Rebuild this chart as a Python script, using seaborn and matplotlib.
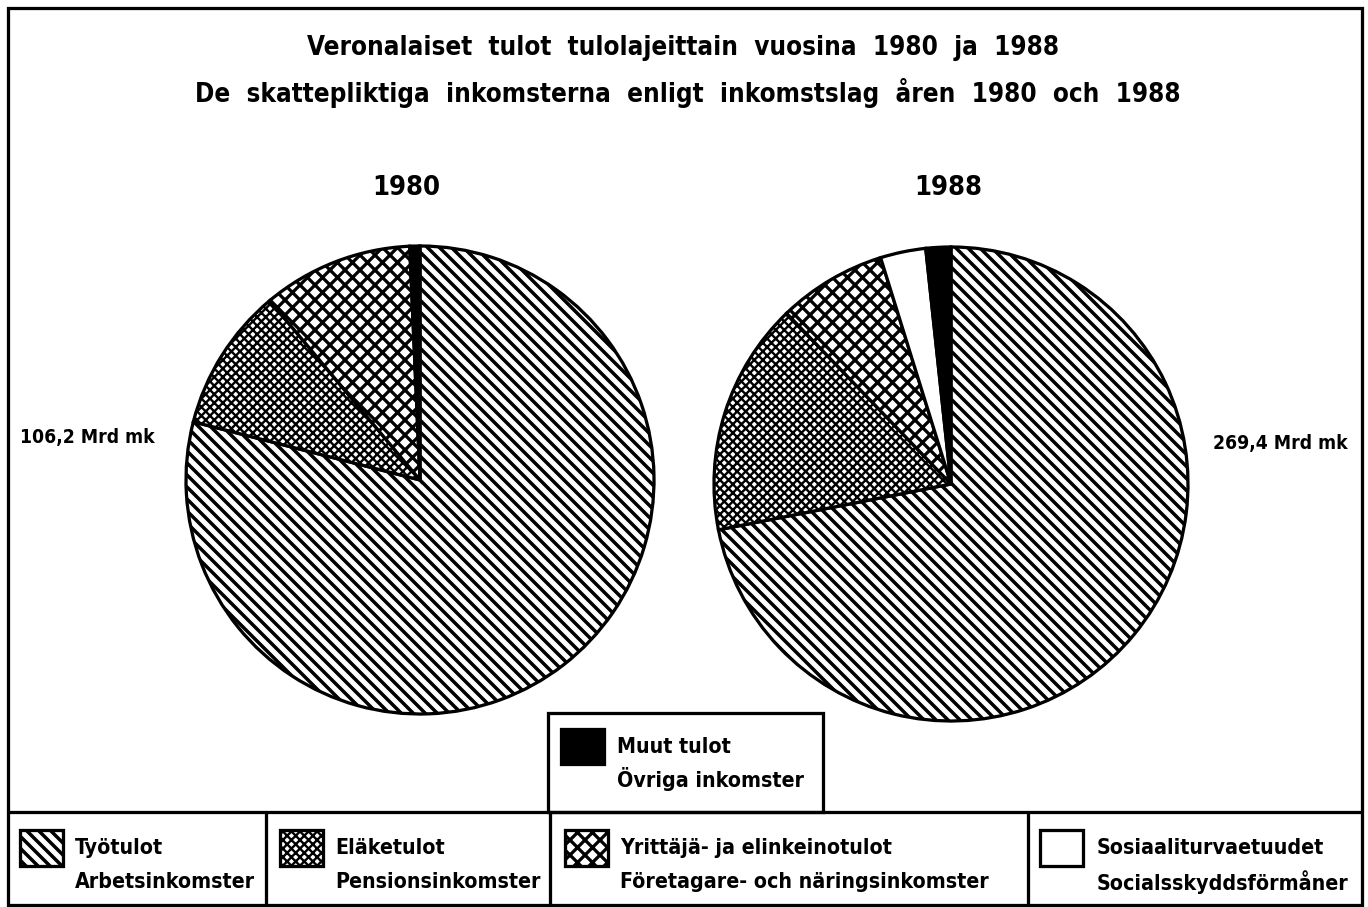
import matplotlib
matplotlib.use("Agg")
import matplotlib.pyplot as plt
from matplotlib.patches import Rectangle
from matplotlib.lines import Line2D
from matplotlib import font_manager as fm
import seaborn as sns

# ---- data ----
categories = ["Työtulot", "Eläketulot", "Yrittäjä- ja elinkeinotulot",
              "Sosiaaliturvaetuudet", "Muut tulot"]
labels_sv = ["Arbetsinkomster", "Pensionsinkomster",
             "Företagare- och näringsinkomster", "Socialsskyddsförmåner",
             "Övriga inkomster"]
share_1980 = [79.0, 9.9, 10.4, 0.0, 0.7]
share_1988 = [71.9, 15.9, 7.4, 3.1, 1.7]
years = ["1980", "1988"]
totals = ["106,2 Mrd mk", "269,4 Mrd mk"]
title1 = "Veronalaiset  tulot  tulolajeittain  vuosina  1980  ja  1988"
title2 = "De  skattepliktiga  inkomsterna  enligt  inkomstslag  åren  1980  och  1988"

hatches = ["\\" * 5, "x" * 7, "x" * 4, "", ""]
hatch_lw = [1.4, 0.95, 1.3, 1.3, 1.3]
faces = ["white", "white", "white", "white", "black"]

sns.set_theme(style="white")

# pick a narrow bold font if one is installed
narrow = None
for f in fm.fontManager.ttflist:
    fn = f.fname.lower()
    if ("narrow" in fn or "condensed" in fn) and "bold" in fn and "oblique" not in fn and "italic" not in fn:
        narrow = f.name
        narrow_stretch = f.stretch
        break
if narrow is not None:
    plt.rcParams["font.family"] = [narrow, "DejaVu Sans"]
    plt.rcParams["font.stretch"] = narrow_stretch
else:
    plt.rcParams["font.family"] = ["Liberation Sans", "DejaVu Sans"]
plt.rcParams["font.weight"] = "bold"
plt.rcParams["text.color"] = "black"
plt.rcParams["hatch.linewidth"] = 1.3
plt.rcParams["hatch.color"] = "black"

W, H = 1368, 907
DPI = 180
fig = plt.figure(figsize=(W / DPI, H / DPI), dpi=DPI)
fig.patch.set_facecolor("white")


def fx(x):
    return x / W


def fy(y):
    return 1 - y / H


LW = 1.3


def set_hlw(p, lw):
    if hasattr(p, "set_hatch_linewidth"):
        p.set_hatch_linewidth(lw)
    else:
        p._hatch_linewidth = lw


def frame_rect(x0, y0, x1, y1, **kw):
    r = Rectangle((fx(x0), fy(y1)), fx(x1) - fx(x0), fy(y0) - fy(y1),
                  transform=fig.transFigure, fill=kw.pop("fill", False),
                  edgecolor="black", linewidth=kw.pop("lw", LW), **kw)
    fig.add_artist(r)
    return r


def hline(x0, x1, y):
    fig.add_artist(Line2D([fx(x0), fx(x1)], [fy(y), fy(y)],
                          transform=fig.transFigure, color="black", lw=LW))


def vline(x, y0, y1):
    fig.add_artist(Line2D([fx(x), fx(x)], [fy(y0), fy(y1)],
                          transform=fig.transFigure, color="black", lw=LW))


# outer frame
frame_rect(8, 8, 1362, 905)

# titles
t1 = fig.text(fx(683), fy(48), title1, ha="center", va="center", fontsize=12)
t2 = fig.text(fx(688), fy(93), title2, ha="center", va="center", fontsize=12)

# pies
pie_specs = [(420, 480, 234, share_1980), (951, 484, 237, share_1988)]
for (cx, cy, r, shares) in pie_specs:
    ax = fig.add_axes([fx(cx - r), fy(cy + r), fx(2 * r), (2 * r) / H])
    keep = [i for i, v in enumerate(shares) if v > 0]
    vals = [shares[i] for i in keep]
    cols = [faces[i] for i in keep]
    hts = [hatches[i] for i in keep]
    wedges, _ = ax.pie(vals, startangle=90, counterclock=False, colors=cols,
                       hatch=hts, radius=1.0,
                       wedgeprops=dict(edgecolor="black", linewidth=LW))
    for w, i in zip(wedges, keep):
        set_hlw(w, hatch_lw[i])
    ax.set_xlim(-1.0, 1.0)
    ax.set_ylim(-1.0, 1.0)
    ax.set_aspect("auto")
    ax.axis("off")

y1 = fig.text(fx(406), fy(188), years[0], ha="center", va="center", fontsize=12)
y2 = fig.text(fx(948), fy(188), years[1], ha="center", va="center", fontsize=12)
tot1 = fig.text(fx(20), fy(437), totals[0], ha="left", va="center", fontsize=10)
tot2 = fig.text(fx(1348), fy(443), totals[1], ha="right", va="center", fontsize=10)

# legend: bottom row
hline(8, 1362, 812)
for x in (266, 550, 1028):
    vline(x, 812, 905)

legend_texts = []
cells = [(20, 75, 0), (280, 335, 1), (565, 620, 2), (1040, 1097, 3)]
for sx, tx, i in cells:
    sw = frame_rect(sx, 830, sx + 43, 866, fill=True, facecolor=faces[i],
                    hatch=hatches[i], lw=LW)
    set_hlw(sw, hatch_lw[i])
    legend_texts.append(fig.text(fx(tx), fy(848), categories[i], ha="left",
                                 va="center", fontsize=12))
    legend_texts.append(fig.text(fx(tx), fy(882), labels_sv[i], ha="left",
                                 va="center", fontsize=12))

# legend: Muut box
frame_rect(548, 713, 823, 812)
frame_rect(561, 729, 604, 764, fill=True, facecolor=faces[4], lw=LW)
legend_texts.append(fig.text(fx(617), fy(747), categories[4], ha="left",
                             va="center", fontsize=12))
legend_texts.append(fig.text(fx(617), fy(779), labels_sv[4], ha="left",
                             va="center", fontsize=12))

# fit font sizes to the widths seen in the reference
fig.canvas.draw()
rend = fig.canvas.get_renderer()


def scale_for(t, width):
    return width / t.get_window_extent(rend).width


s_title = min(scale_for(t2, 1010), scale_for(t1, 750))
for t in (t1, t2):
    t.set_fontsize(t.get_fontsize() * s_title)
for t in (y1, y2):
    t.set_fontsize(t1.get_fontsize() * 1.05)

s_leg = min(scale_for(legend_texts[5], 392), scale_for(legend_texts[7], 250),
            scale_for(legend_texts[9], 195))
for t in legend_texts:
    t.set_fontsize(t.get_fontsize() * s_leg)

s_tot = scale_for(tot1, 135)
for t in (tot1, tot2):
    t.set_fontsize(t.get_fontsize() * s_tot)

fig.savefig("out.png", dpi=DPI, facecolor="white")
